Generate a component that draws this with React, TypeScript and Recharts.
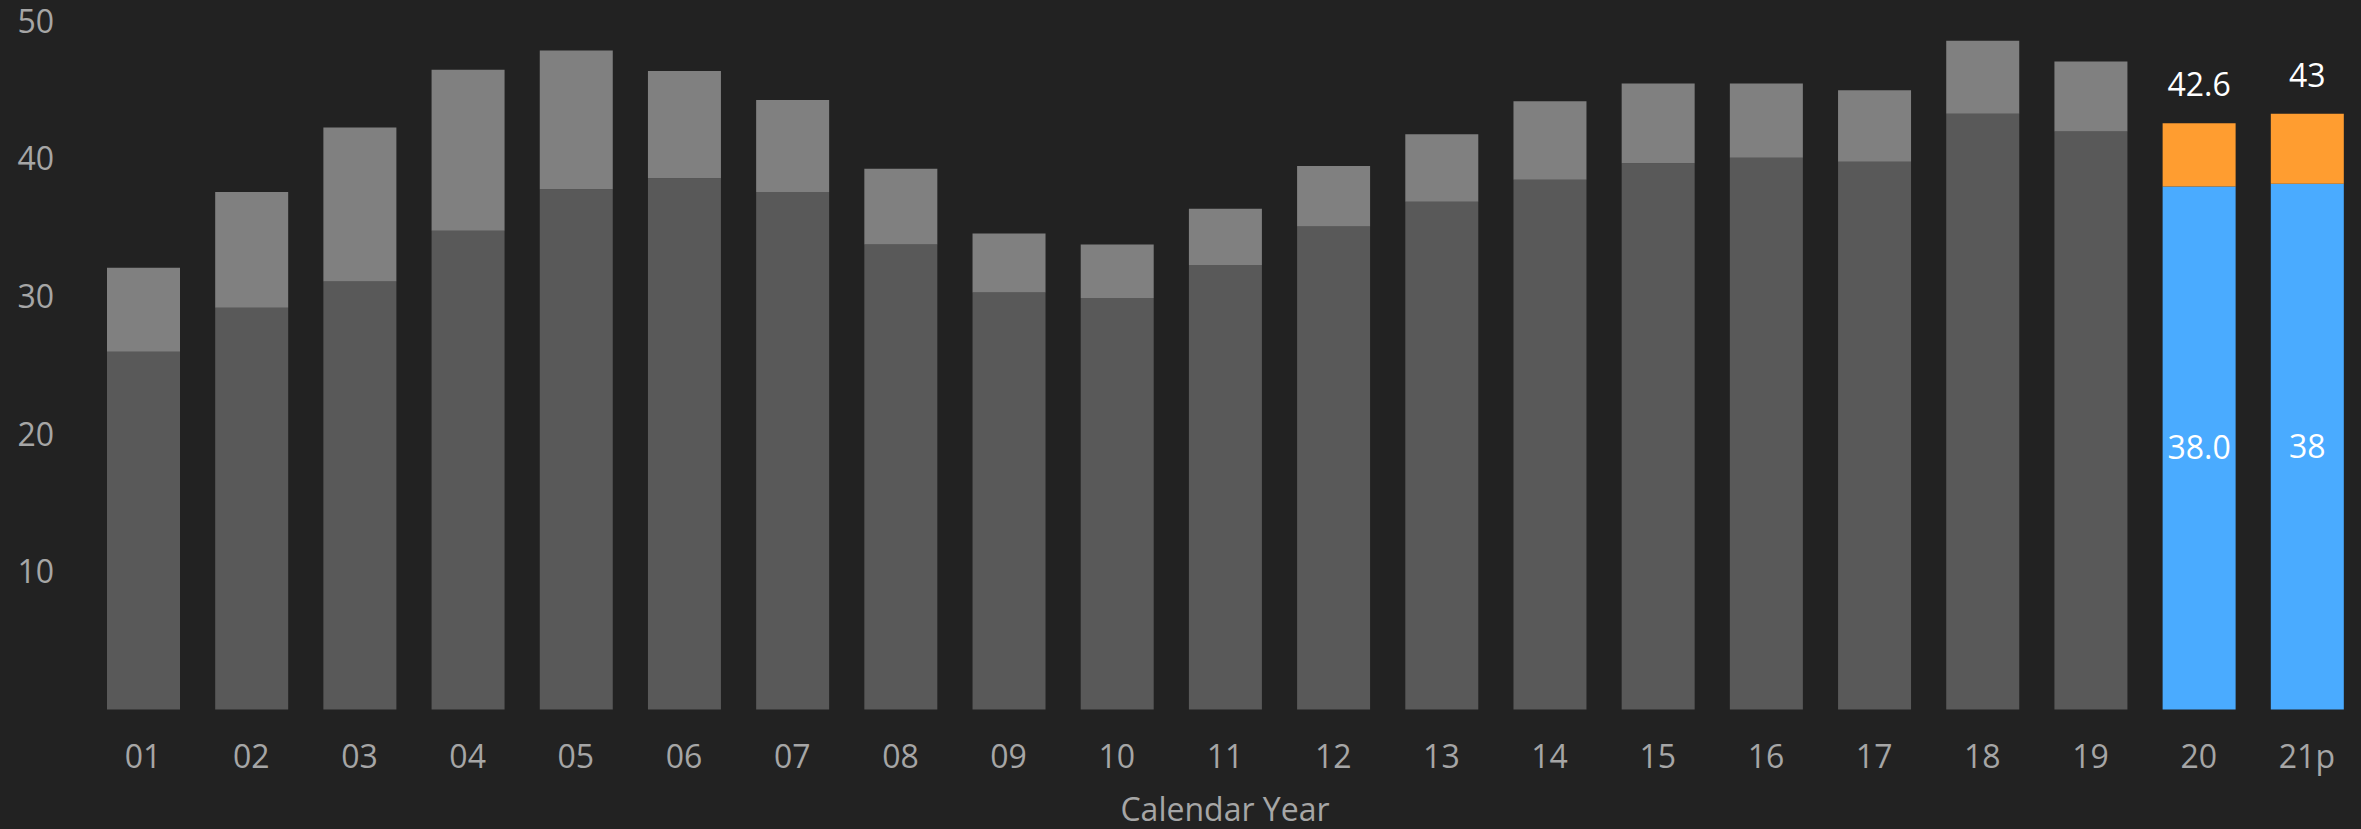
import { BarChart, Bar, XAxis, YAxis, Cell, LabelList } from 'recharts'

const years = ['01', '02', '03', '04', '05', '06', '07', '08', '09', '10', '11', '12', '13', '14', '15', '16', '17', '18', '19', '20', '21p']
const baseValues = [26.0, 29.2, 31.1, 34.8, 37.8, 38.6, 37.6, 33.8, 30.3, 29.9, 32.3, 35.1, 36.9, 38.5, 39.7, 40.1, 39.8, 43.3, 42.0, 38.0, 38.2]
const totalValues = [32.1, 37.6, 42.3, 46.5, 47.9, 46.4, 44.3, 39.3, 34.6, 33.8, 36.4, 39.5, 41.8, 44.2, 45.5, 45.5, 45.0, 48.6, 47.1, 42.6, 43.3]
const baseLabels = ['', '', '', '', '', '', '', '', '', '', '', '', '', '', '', '', '', '', '', '38.0', '38']
const totalLabels = ['', '', '', '', '', '', '', '', '', '', '', '', '', '', '', '', '', '', '', '42.6', '43']
const highlighted = ['20', '21p']
const yTicks = [10, 20, 30, 40, 50]

const BG = '#222222'
const AXIS_TEXT = '#A6A6A6'
const FONT = '"Open Sans", sans-serif'

const data = years.map((year, i) => ({
  year,
  base: baseValues[i],
  extra: Math.round((totalValues[i] - baseValues[i]) * 10) / 10,
  baseLabel: baseLabels[i],
  totalLabel: totalLabels[i],
}))

export default function App() {
  return (
    <div style={{ width: 2361, height: 829, background: BG, fontFamily: FONT }}>
      <style>{'body{margin:0;background:#222222}'}</style>
      <BarChart
        width={2361}
        height={829}
        data={data}
        margin={{ top: 21.5, right: 0, bottom: 0, left: 0 }}
        barCategoryGap="16%"
        style={{ fontFamily: FONT }}
      >
        <XAxis
          dataKey="year"
          height={119.5}
          axisLine={false}
          tickLine={false}
          tickSize={0}
          tickMargin={36}
          interval={0}
          tick={{ fill: AXIS_TEXT, fontSize: 32, fontFamily: FONT }}
          label={{ value: 'Calendar Year', position: 'insideBottom', offset: 8, fill: AXIS_TEXT, fontSize: 32, fontFamily: FONT }}
        />
        <YAxis
          width={89}
          domain={[0, 50]}
          ticks={yTicks}
          axisLine={false}
          tickLine={false}
          tickSize={0}
          tickMargin={35}
          tick={{ fill: AXIS_TEXT, fontSize: 32, fontFamily: FONT }}
        />
        <Bar dataKey="base" stackId="a" barSize={73} isAnimationActive={false}>
          {data.map((d) => (
            <Cell key={d.year} fill={highlighted.includes(d.year) ? '#4AABFF' : '#595959'} />
          ))}
          <LabelList dataKey="baseLabel" position="center" fill="#FFFFFF" fontSize={32} fontFamily={FONT} />
        </Bar>
        <Bar dataKey="extra" stackId="a" barSize={73} isAnimationActive={false}>
          {data.map((d) => (
            <Cell key={d.year} fill={highlighted.includes(d.year) ? '#FF9D30' : '#808080'} />
          ))}
          <LabelList dataKey="totalLabel" position="top" offset={27} fill="#FFFFFF" fontSize={32} fontFamily={FONT} />
        </Bar>
      </BarChart>
    </div>
  )
}
